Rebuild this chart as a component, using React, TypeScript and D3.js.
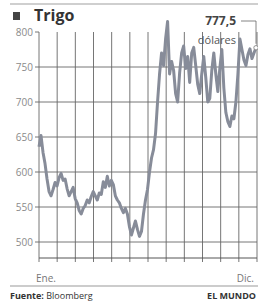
import React from "react";
import * as d3 from "d3";

// Precio del trigo, dólares por tonelada (lecturas aproximadas, ene-dic)
const prices = [
  636, 652, 628, 612, 590, 572, 566, 575, 585, 580, 592, 598, 588, 590, 576, 566,
  572, 578, 562, 556, 545, 540, 548, 552, 560, 556, 565, 572, 566, 560, 570, 568,
  586, 578, 594, 580, 588, 582, 566, 560, 556, 548, 542, 548, 540, 522, 510, 520,
  530, 518, 508, 515, 540, 560, 575, 600, 620, 632, 655, 700, 740, 770, 752, 790,
  815, 740, 758, 745, 712, 700, 742, 770, 780, 748, 765, 728, 770, 778, 752, 725,
  712, 740, 765, 735, 700, 705, 745, 770, 740, 715, 748, 775, 720, 685, 672, 665,
  680, 676, 700, 740, 790, 775, 760, 752, 768, 776, 762, 770, 777.5,
];
const yTicks = [800, 750, 700, 650, 600, 550, 500];
const monthCount = 12;
const lastLabel = ["777,5", "dólares"];

const W = 258;
const H = 302;
const left = 39;
const right = 257;
const top = 32;
const bottom = 258;
const font = "'Open Sans', 'Noto Sans', sans-serif";

export default function App() {
  const y = d3.scaleLinear().domain([500, 800]).range([242, top]);
  const x = d3.scaleLinear().domain([0, prices.length - 1]).range([left, 256]);
  const mx = d3.scaleLinear().domain([0, monthCount]).range([left, right]);

  const line = d3
    .line<number>()
    .x((d, i) => x(i))
    .y((d) => y(d))
    .curve(d3.curveLinear);

  const last = prices[prices.length - 1];
  const lx = x(prices.length - 1);
  const ly = y(last);

  return (
    <svg width={W} height={H} style={{ position: "absolute", left: 0, top: 0, background: "#fff" }}>
      {/* cabecera */}
      <line x1={10} x2={W} y1={4} y2={4} stroke="#cfcfcf" strokeWidth={2} />
      <rect x={13} y={12} width={7} height={8} fill="#444" />
      <text x={34} y={21} fontFamily={font} fontWeight="bold" fontSize={16} fill="#333">
        Trigo
      </text>

      {/* rejilla */}
      {d3.range(0, monthCount + 1).map((m) => (
        <line
          key={"v" + m}
          x1={mx(m)}
          x2={mx(m)}
          y1={top}
          y2={bottom + 4}
          stroke="#666"
          strokeWidth={0.9}
        />
      ))}
      {yTicks.map((t) => (
        <g key={t}>
          {t < 800 && (
            <line x1={35} x2={right} y1={y(t)} y2={y(t)} stroke="#666" strokeWidth={0.9} />
          )}
          {t === 800 && <line x1={35} x2={left} y1={y(t)} y2={y(t)} stroke="#666" strokeWidth={0.9} />}
          <text
            x={33}
            y={y(t)}
            dy="0.35em"
            textAnchor="end"
            fontFamily={font}
            fontSize={10}
            fill="#8a8a8a"
          >
            {t}
          </text>
        </g>
      ))}
      <line x1={left} x2={right} y1={bottom} y2={bottom} stroke="#555" strokeWidth={1} />

      {/* serie */}
      <path d={line(prices) || ""} fill="none" stroke="#878c99" strokeWidth={3} strokeLinejoin="round" />

      {/* anotación */}
      <text x={236} y={25} textAnchor="end" fontFamily={font} fontWeight="bold" fontSize={12} fill="#444">
        {lastLabel[0]}
      </text>
      <text x={236} y={44} textAnchor="end" fontFamily={font} fontSize={11} fill="#555">
        {lastLabel[1]}
      </text>
      <polyline points={`241,21 ${lx},21 ${lx},${ly - 4}`} fill="none" stroke="#666" strokeWidth={0.8} />
      <circle cx={lx} cy={ly} r={2.2} fill="#fff" stroke="#777" strokeWidth={0.8} />

      {/* meses */}
      <text x={36} y={282} fontFamily={font} fontSize={10} fill="#777">
        Ene.
      </text>
      <text x={254} y={282} textAnchor="end" fontFamily={font} fontSize={10} fill="#777">
        Dic.
      </text>

      {/* pie */}
      <line x1={10} x2={W} y1={286} y2={286} stroke="#999" strokeWidth={1.2} />
      <text x={10} y={299} fontFamily={font} fontSize={9} fill="#333">
        <tspan fontWeight="bold">Fuente:</tspan> Bloomberg
      </text>
      <text x={256} y={299} textAnchor="end" fontFamily={font} fontWeight="bold" fontSize={9} fill="#333">
        EL MUNDO
      </text>
    </svg>
  );
}
